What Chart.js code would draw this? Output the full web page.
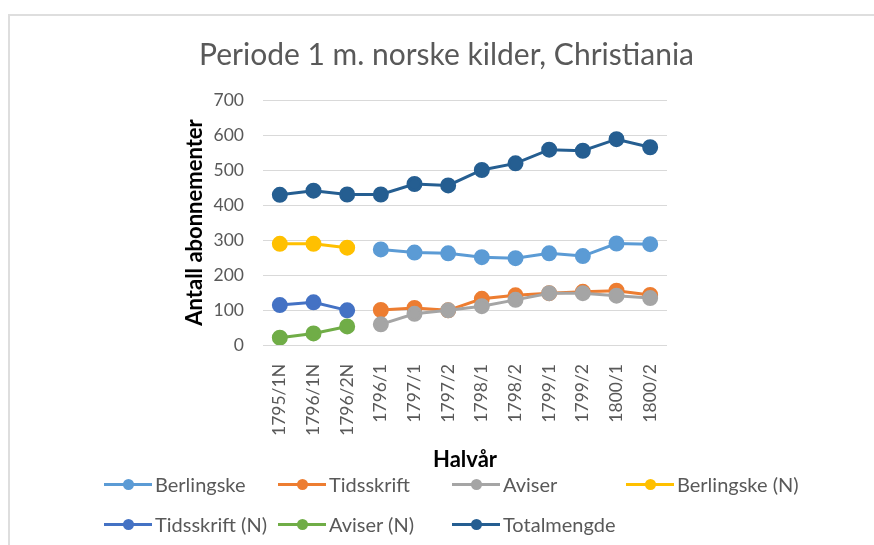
<!DOCTYPE html>
<html>
<head>
<meta charset="utf-8">
<script src="https://cdn.jsdelivr.net/npm/chart.js@4/dist/chart.umd.min.js"></script>
<style>
  html, body { margin: 0; padding: 0; background: #fff; overflow: hidden; }
  #wrap { position: relative; width: 874px; height: 545px; }
  #frame { position: absolute; left: 8px; top: 14px; right: -10px; bottom: -10px;
           border-top: 2px solid #dedede; border-left: 2px solid #dedede; }
  #chart { position: absolute; left: 0; top: 0; }
  #legend { position: absolute; left: 104px; top: 471px; display: grid;
            grid-template-columns: repeat(4, 174px); row-gap: 14px;
            font-family: Lato, sans-serif; font-size: 20px; color: #595959; }
  .item { display: flex; align-items: center; height: 26px; white-space: nowrap; }
  .mark { position: relative; width: 48px; height: 3px; margin-right: 3px; }
  .mark span { position: absolute; left: 19px; top: -4px; width: 11px; height: 11px; border-radius: 50%; }
</style>
</head>
<body>
<div id="wrap">
  <div id="frame"></div>
  <canvas id="chart" width="874" height="545"></canvas>
  <div id="legend"></div>
</div>
<script>
const categories = ['1795/1N', '1796/1N', '1796/2N', '1796/1', '1797/1', '1797/2',
                    '1798/1', '1798/2', '1799/1', '1799/2', '1800/1', '1800/2'];
const berlingske   = [null, null, null, 273, 264, 262, 251, 248, 262, 254, 290, 288];
const tidsskrift   = [null, null, null, 100, 106, 99, 132, 142, 148, 152, 155, 143];
const aviser       = [null, null, null, 59, 89, 99, 111, 129, 148, 148, 141, 134];
const berlingskeN  = [289, 289, 278, null, null, null, null, null, null, null, null, null];
const tidsskriftN  = [114, 122, 99, null, null, null, null, null, null, null, null, null];
const aviserN      = [21, 33, 53, null, null, null, null, null, null, null, null, null];
const totalmengde  = [429, 441, 430, 430, 460, 456, 500, 519, 558, 555, 588, 565];
const yTicks = [0, 100, 200, 300, 400, 500, 600, 700];

Chart.defaults.font.family = 'Lato';
Chart.defaults.color = '#595959';

function series(label, data, color) {
  return {
    label, data,
    borderColor: color, backgroundColor: color,
    pointBackgroundColor: color, pointBorderColor: color,
    borderWidth: 3, pointRadius: 6.5, pointHoverRadius: 6.5,
    spanGaps: false, tension: 0
  };
}

const datasets = [
  series('Berlingske', berlingske, '#5B9BD5'),
  series('Tidsskrift', tidsskrift, '#ED7D31'),
  series('Aviser', aviser, '#A5A5A5'),
  series('Berlingske (N)', berlingskeN, '#FFC000'),
  series('Tidsskrift (N)', tidsskriftN, '#4472C4'),
  series('Aviser (N)', aviserN, '#70AD47'),
  series('Totalmengde', totalmengde, '#255E91')
];
// later series on top, like the original
datasets.forEach((d, i) => d.order = datasets.length - i);

const chart = new Chart(document.getElementById('chart'), {
  type: 'line',
  data: { labels: categories, datasets },
  options: {
    responsive: false,
    animation: false,
    events: [],
    layout: { padding: { left: 19, right: 0, top: 0, bottom: 72 } },
    plugins: {
      legend: { display: false },
      tooltip: { enabled: false },
      title: {
        display: true,
        text: 'Periode 1 m. norske kilder, Christiania',
        color: '#595959',
        font: { size: 30, weight: 'normal' },
        padding: { top: 37, bottom: 27 }
      }
    },
    scales: {
      x: {
        offset: true,
        grid: { display: false, drawTicks: false },
        border: { display: false },
        ticks: { minRotation: 90, maxRotation: 90, padding: 19, font: { size: 17.5 }, color: '#595959' },
        title: { display: true, text: 'Halvår', color: '#000', font: { size: 22, weight: 'bold' }, padding: 0 },
        afterFit: s => { s.height = 128; }
      },
      y: {
        min: 0, max: 700,
        afterBuildTicks: s => { s.ticks = yTicks.map(v => ({ value: v })); },
        grid: { color: '#d9d9d9', lineWidth: 1, drawTicks: false },
        border: { display: false },
        ticks: { padding: 19, font: { size: 17.5 }, color: '#595959' },
        title: { display: true, text: 'Antall abonnementer', color: '#000', font: { size: 22, weight: 'bold' }, padding: { top: 162.8, bottom: 0 } },
        afterFit: s => { s.width = 244; }
      },
      yRight: {
        position: 'right',
        grid: { display: false },
        border: { display: false },
        ticks: { display: false },
        afterFit: s => { s.width = 207; }
      }
    }
  }
});

const legend = document.getElementById('legend');
datasets.forEach(d => {
  const item = document.createElement('div');
  item.className = 'item';
  item.innerHTML = `<div class="mark" style="background:${d.borderColor}"><span style="background:${d.borderColor}"></span></div>${d.label}`;
  legend.appendChild(item);
});
</script>
</body>
</html>
